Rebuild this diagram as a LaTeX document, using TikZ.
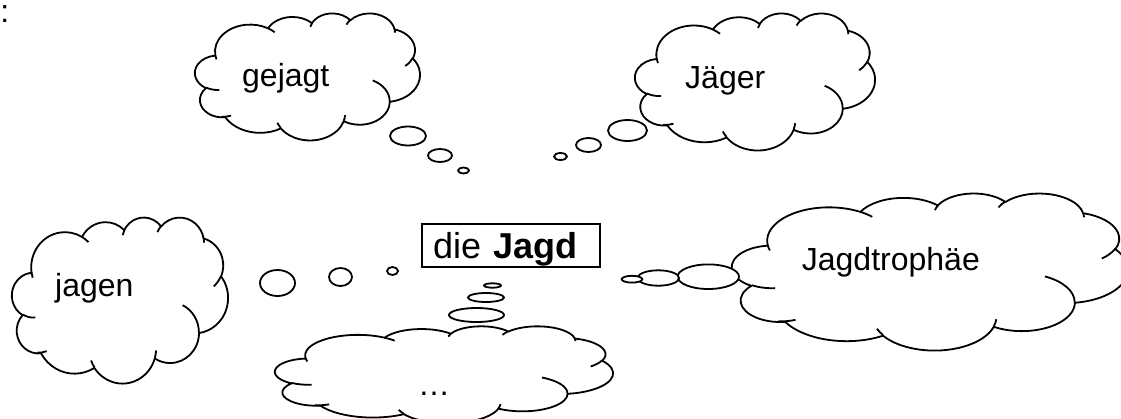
\documentclass[tikz,border=0pt]{standalone}
\usepackage{fontspec}
\setmainfont{Liberation Sans}
\tikzset{
  oarc/.style n args={4}{x radius=#1pt, y radius=#2pt,
    start angle={atan2(#1*sin(#3),#2*cos(#3))},
    delta angle={mod(atan2(#1*sin(#3+#4),#2*cos(#3+#4))-atan2(#1*sin(#3),#2*cos(#3))+720,360)}},
  cloudline/.style={line width=1.8pt, fill=white, line join=round},
  innerline/.style={line width=1.8pt},
  bubble/.style={line width=1.8pt, fill=white},
  lbl/.style={font=\fontsize{32}{38}\selectfont, inner sep=0pt, anchor=base west},
  jagdbox/.style={draw, line width=2.2pt, anchor=north west, inner xsep=11pt,
    inner ysep=2.3pt, text width=156pt, align=left, text height=32pt,
    text depth=6.4pt, font=\fontsize{36}{43}\selectfont}
}
\newcommand\thoughtcloud[4]{%
\begin{scope}[shift={(#1,#2)}, xscale=#3/43.2, yscale=#4/43.2]
\draw[cloudline] (3.900,14.370)
 arc[oarc={6.753}{9.190}{-190.4875}{123.7805}]
 arc[oarc={5.333}{7.267}{-144.1024}{89.9452}]
 arc[oarc={4.365}{5.945}{-145.8079}{99.7230}]
 arc[oarc={4.857}{6.595}{-130.9861}{117.2417}]
 arc[oarc={5.333}{7.273}{-78.7089}{109.0269}]
 arc[oarc={6.775}{9.220}{-46.2673}{130.2690}]
 arc[oarc={5.785}{7.867}{0.6250}{114.0333}]
 arc[oarc={6.752}{9.215}{22.4516}{115.1726}]
 arc[oarc={7.720}{10.543}{66.2426}{75.7110}]
 arc[oarc={4.360}{5.918}{-274.9421}{146.7356}]
 arc[oarc={4.345}{5.945}{-246.8285}{152.5189}]
 -- cycle;
\draw[innerline]
 (4.693,26.177) arc[oarc={4.345}{5.945}{86.7420}{26.4295}]
 (6.928,34.899) arc[oarc={4.360}{5.918}{73.6105}{18.7768}]
 (16.478,39.090) arc[oarc={6.752}{9.215}{137.6242}{14.0811}]
 (28.827,34.751) arc[oarc={6.752}{9.215}{6.4533}{15.9984}]
 (34.129,22.954) arc[oarc={5.785}{7.867}{-70.2924}{70.9174}]
 (41.798,15.354) arc[oarc={5.333}{7.273}{30.3180}{27.7515}]
 (38.324,5.426) arc[oarc={4.857}{6.595}{-13.7443}{14.8589}]
 (29.078,3.952) arc[oarc={4.857}{6.595}{-149.1815}{18.1954}]
 (22.141,4.720) arc[oarc={4.365}{5.945}{-163.4943}{17.6864}]
 (14.000,5.192) arc[oarc={6.753}{9.190}{-66.7070}{12.3194}]
 (4.127,15.789) arc[oarc={6.753}{9.190}{157.6544}{11.8582}];
\end{scope}}
\begin{document}
\begin{tikzpicture}[x=1pt,y=1pt,yscale=-1]
\fill[white] (0,0) rectangle (1121,418);
\useasboundingbox (0,0) rectangle (1121,418);

% gejagt
\thoughtcloud{195}{13}{225}{127}
\draw[bubble] (408,136) ellipse [x radius=18pt, y radius=9.5pt];
\draw[bubble] (440,155.5) ellipse [x radius=12pt, y radius=6.5pt];
\draw[bubble] (463.5,170.5) ellipse [x radius=5.5pt, y radius=3pt];
\node[lbl] (gejagt) at (242,86) {gejagt};

% Jaeger
\thoughtcloud{635}{13}{240}{137}
\draw[bubble] (627.5,130.5) ellipse [x radius=19.5pt, y radius=10.5pt];
\draw[bubble] (588.5,145) ellipse [x radius=12.5pt, y radius=7pt];
\draw[bubble] (560.5,156.5) ellipse [x radius=6.5pt, y radius=3.5pt];
\node[lbl] (jaeger) at (685,88.3) {Jäger};

% jagen
\thoughtcloud{12}{217}{216}{166}
\draw[bubble] (277.5,283) ellipse [x radius=17.5pt, y radius=13pt];
\draw[bubble] (340.5,277) ellipse [x radius=11.5pt, y radius=9pt];
\draw[bubble] (392.5,271) ellipse [x radius=5.5pt, y radius=4pt];
\node[lbl] (jagen) at (55,296.7) {jagen};

% die Jagd
\node[jagdbox] (jagd) at (421,223) {die \textbf{Jagd}};
\draw[bubble] (476.5,315) ellipse [x radius=27.5pt, y radius=7pt];
\draw[bubble] (486,297.5) ellipse [x radius=18pt, y radius=4.5pt];
\draw[bubble] (492.5,285.5) ellipse [x radius=8.5pt, y radius=2.2pt];

% dots cloud
\thoughtcloud{275}{326}{338}{97}
\node[lbl] (dots) at (418,395.5) {…};

% Jagdtrophaee
\thoughtcloud{732}{193}{396}{157}
\draw[bubble] (708.3,276.7) ellipse [x radius=30.7pt, y radius=12.3pt];
\draw[bubble] (658.3,278) ellipse [x radius=20.7pt, y radius=7.7pt];
\draw[bubble] (632,279.2) ellipse [x radius=10.3pt, y radius=3.4pt];
\node[lbl] (trophy) at (801.7,270.7) {Jagdtrophäe};

% colon at top left
\node[lbl] (colon) at (0.2,22.3) {:};
\end{tikzpicture}
\end{document}
